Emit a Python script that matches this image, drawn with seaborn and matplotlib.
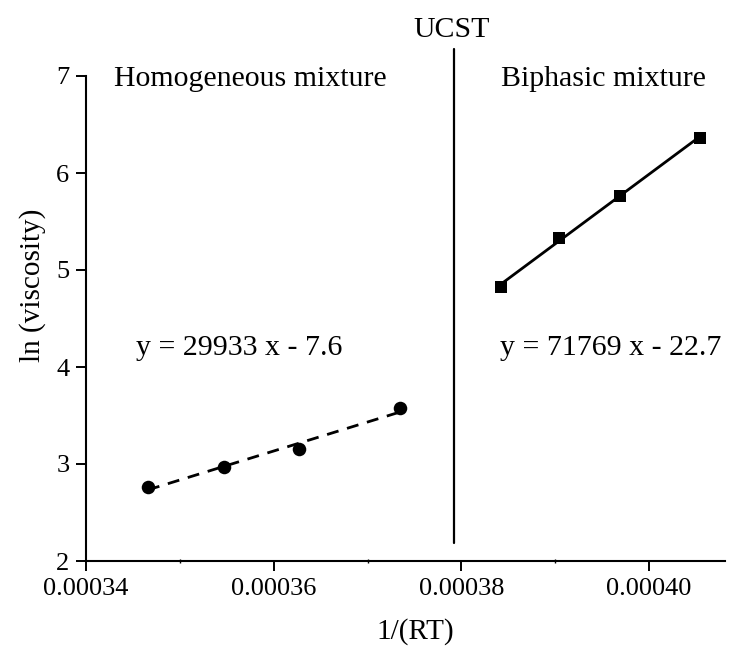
import matplotlib
matplotlib.use("Agg")
import matplotlib.pyplot as plt
import seaborn as sns
import numpy as np
import pandas as pd
from matplotlib.ticker import FixedLocator, FormatStrFormatter

# Data
x_homo = [0.0003466, 0.0003547, 0.0003627, 0.0003735]
y_homo = [2.760, 2.972, 3.155, 3.574]
x_bi = [0.0003842, 0.0003904, 0.0003969, 0.0004054]
y_bi = [4.828, 5.333, 5.766, 6.364]
ucst_x = 0.0003792
x_ticks = [0.00034, 0.00036, 0.00038, 0.00040]
x_minor = [0.00035, 0.00037, 0.00039]
y_ticks = [2, 3, 4, 5, 6, 7]
eq_homo = "y = 29933 x - 7.6"
eq_bi = "y = 71769 x - 22.7"

sns.set_style("ticks")
plt.rcParams['font.family'] = ['Liberation Serif', 'DejaVu Serif']
plt.rcParams['text.color'] = 'black'
plt.rcParams['axes.labelcolor'] = 'black'
plt.rcParams['xtick.color'] = 'black'
plt.rcParams['ytick.color'] = 'black'

fig = plt.figure(figsize=(7.33, 6.47), dpi=100)
ax = fig.add_axes([86/733, 1-561/647, (725-86)/733, (561-76)/647])

df_h = pd.DataFrame({"x": x_homo, "y": y_homo})
df_b = pd.DataFrame({"x": x_bi, "y": y_bi})

sns.regplot(data=df_h, x="x", y="y", ax=ax, ci=None, marker="o", color="black",
            scatter_kws=dict(s=95, linewidths=0, alpha=1, zorder=3),
            line_kws=dict(lw=2.0, ls=(0, (4.3, 3.2)), zorder=2))
sns.regplot(data=df_b, x="x", y="y", ax=ax, ci=None, marker="s", color="black",
            scatter_kws=dict(s=72, linewidths=0, alpha=1, zorder=3),
            line_kws=dict(lw=2.0, zorder=2))

# UCST line
ax.plot([ucst_x, ucst_x], [2.186, 7.278], color="black", lw=1.6, clip_on=False)

ax.set_xlim(0.00034, 0.00040809)
ax.set_ylim(2, 7)
ax.xaxis.set_major_locator(FixedLocator(x_ticks))
ax.xaxis.set_minor_locator(FixedLocator(x_minor))
ax.xaxis.set_major_formatter(FormatStrFormatter('%.5f'))
ax.yaxis.set_major_locator(FixedLocator(y_ticks))

for s in ['top', 'right']:
    ax.spines[s].set_visible(False)
for s in ['left', 'bottom']:
    ax.spines[s].set_linewidth(1.5)
    ax.spines[s].set_color('black')

ax.tick_params(axis='both', which='major', direction='out', length=7, width=1.4,
               labelsize=19, colors='black', labelcolor='black', pad=5)
ax.tick_params(axis='x', which='minor', direction='inout', length=3, width=1.0)
ax.set_xlabel("")
ax.set_ylabel("")

fs_txt = 21.5
ax.text(0.0003430, 6.897, "Homogeneous mixture", fontsize=fs_txt, ha='left', va='baseline', color='black')
ax.text(0.0003842, 6.897, "Biphasic mixture", fontsize=fs_txt, ha='left', va='baseline', color='black')
ax.text(0.00037895, 7.402, "UCST", fontsize=fs_txt, ha='center', va='baseline', clip_on=False, color='black')
ax.text(0.0003453, 4.124, eq_homo, fontsize=fs_txt, ha='left', va='baseline', color='black')
ax.text(0.0003841, 4.124, eq_bi, fontsize=fs_txt, ha='left', va='baseline', color='black')

fig.text(32.5/733, 1-285/647, "ln (viscosity)", rotation=90, ha='center', va='center', fontsize=21, color='black')
fig.text(415/733, 1-632/647, "1/(RT)", ha='center', va='center', fontsize=21, color='black')

fig.savefig("out.png", dpi=100, facecolor='white')
